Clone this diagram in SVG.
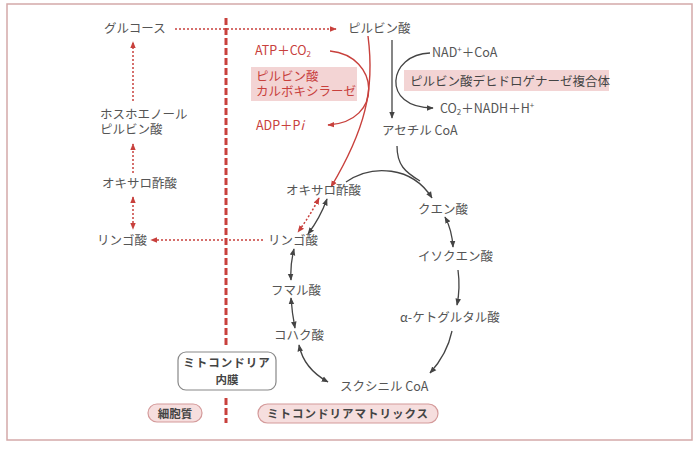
<svg xmlns="http://www.w3.org/2000/svg" width="700" height="450" viewBox="0 0 700 450">
<style>
text{font-family:"Noto Sans CJK JP","Noto Sans",sans-serif;font-size:12.5px;fill:#555}
.r{fill:#c8403c}
.b{font-weight:bold;fill:#444;font-size:11.5px}
.g{fill:none;stroke:#444;stroke-width:1.3}
.rs{fill:none;stroke:#c8403c;stroke-width:1.4}
.rd{fill:none;stroke:#c8403c;stroke-width:1.5;stroke-dasharray:2 2}
.hl{fill:#f3d4d4}
.pill{fill:#f6dede;stroke:#d49a9a;stroke-width:1.2}
</style>
<defs>
<marker id="ag" viewBox="0 0 10 10" refX="9" refY="5" markerWidth="7" markerHeight="7" orient="auto-start-reverse" markerUnits="userSpaceOnUse"><path d="M0,1 L10,5 L0,9 Z" fill="#444"/></marker>
<marker id="ar" viewBox="0 0 10 10" refX="9" refY="5" markerWidth="7" markerHeight="7" orient="auto-start-reverse" markerUnits="userSpaceOnUse"><path d="M0,1 L10,5 L0,9 Z" fill="#c8403c"/></marker>
</defs>
<rect x="7" y="4" width="685" height="436" fill="none" stroke="#d4a9a9" stroke-width="1.5"/>
<g id="membrane-line">
<line x1="226" y1="18" x2="226" y2="345" stroke="#c8403c" stroke-width="3" stroke-dasharray="7 3"/>
<line x1="226" y1="398" x2="226" y2="423" stroke="#c8403c" stroke-width="3" stroke-dasharray="7 3"/>
</g>
<g id="connectors">
<path class="rd" d="M175,29 H336" marker-end="url(#ar)"/>
<path class="rd" d="M133,101 V42" marker-end="url(#ar)"/>
<path class="rd" d="M133,173 V144" marker-end="url(#ar)"/>
<path class="rd" d="M133,197 V229" marker-start="url(#ar)" marker-end="url(#ar)"/>
<path class="rd" d="M263,240 H151" marker-end="url(#ar)"/>
<path class="rd" d="M319,198 Q310,216 298,232" marker-start="url(#ar)" marker-end="url(#ar)"/>
<path class="rs" d="M330,51 C380,56 384,122 328,125" marker-end="url(#ar)"/>
<path class="rs" d="M368,36 C375,90 365,130 331,187" marker-end="url(#ar)"/>
<path class="g" d="M392,40 V118" marker-end="url(#ag)"/>
<path class="g" d="M430,53 C388,54 380,108 433,108" marker-end="url(#ag)"/>
<path class="g" d="M346,182 C372,164 412,166 432,198" marker-end="url(#ag)"/>
<path class="g" d="M397,146 C397,165 405,172 420,181"/>
<path class="g" d="M445,217 Q452,230 453,247" marker-start="url(#ag)" marker-end="url(#ag)"/>
<path class="g" d="M458,270 C460,285 459,295 457,305" marker-end="url(#ag)"/>
<path class="g" d="M452,331 C448,350 440,362 430,373" marker-end="url(#ag)"/>
<path class="g" d="M328,382 C310,372 302,360 299,345" marker-start="url(#ag)" marker-end="url(#ag)"/>
<path class="g" d="M291,298 Q292,313 295,328" marker-start="url(#ag)" marker-end="url(#ag)"/>
<path class="g" d="M294,249 Q290,265 291,280" marker-start="url(#ag)" marker-end="url(#ag)"/>
<path class="g" d="M327,199 Q320,218 308,234" marker-start="url(#ag)" marker-end="url(#ag)"/>
</g>
<g id="glucose"><text x="104" y="33">グルコース</text></g>
<g id="pep"><text x="100" y="119">ホスホエノール<tspan x="100" dy="15">ピルビン酸</tspan></text></g>
<g id="oaa-cyto"><text x="102" y="188">オキサロ酢酸</text></g>
<g id="malate-cyto"><text x="97" y="245">リンゴ酸</text></g>
<g id="pyruvate"><text x="348" y="33">ピルビン酸</text></g>
<g id="atp-co2"><text class="r" x="255" y="55">ATP＋CO<tspan font-size="8" dy="2">2</tspan></text></g>
<g id="pc"><rect class="hl" x="251" y="67" width="106" height="34"/><text class="r" x="256" y="81">ピルビン酸<tspan x="256" dy="15">カルボキシラーゼ</tspan></text></g>
<g id="adp-pi"><text class="r" x="256" y="130">ADP＋P<tspan font-style="italic">i</tspan></text></g>
<g id="nad-coa"><text x="432" y="57">NAD<tspan font-size="8" dy="-5">+</tspan><tspan dy="5">＋CoA</tspan></text></g>
<g id="pdh"><rect class="hl" x="404" y="70" width="205" height="21"/><text x="410" y="86" style="fill:#444">ピルビン酸デヒドロゲナーゼ複合体</text></g>
<g id="co2-nadh"><text x="440" y="113">CO<tspan font-size="8" dy="2">2</tspan><tspan dy="-2">＋NADH＋H</tspan><tspan font-size="8" dy="-5">+</tspan></text></g>
<g id="acetyl-coa"><text x="382" y="135">アセチル CoA</text></g>
<g id="oaa"><text x="286" y="195">オキサロ酢酸</text></g>
<g id="citrate"><text x="418" y="214">クエン酸</text></g>
<g id="isocitrate"><text x="418" y="261">イソクエン酸</text></g>
<g id="akg"><text x="400" y="322">α-ケトグルタル酸</text></g>
<g id="succinyl-coa"><text x="340" y="391">スクシニル CoA</text></g>
<g id="succinate"><text x="274" y="340">コハク酸</text></g>
<g id="fumarate"><text x="271" y="295">フマル酸</text></g>
<g id="malate"><text x="268" y="245">リンゴ酸</text></g>
<g id="inner-membrane"><rect x="178" y="352" width="98" height="38" rx="8" fill="#fff" stroke="#888" stroke-width="1.2"/><text class="b" x="227" y="367" text-anchor="middle" letter-spacing="1">ミトコンドリア<tspan x="227" dy="17" letter-spacing="0">内膜</tspan></text></g>
<g id="cytoplasm"><rect class="pill" x="148" y="404" width="54" height="18" rx="9"/><text class="b" x="175" y="417.5" text-anchor="middle">細胞質</text></g>
<g id="matrix"><rect class="pill" x="258" y="404" width="180" height="19" rx="9.5"/><text class="b" x="348" y="418" text-anchor="middle" letter-spacing="1">ミトコンドリアマトリックス</text></g>
</svg>
